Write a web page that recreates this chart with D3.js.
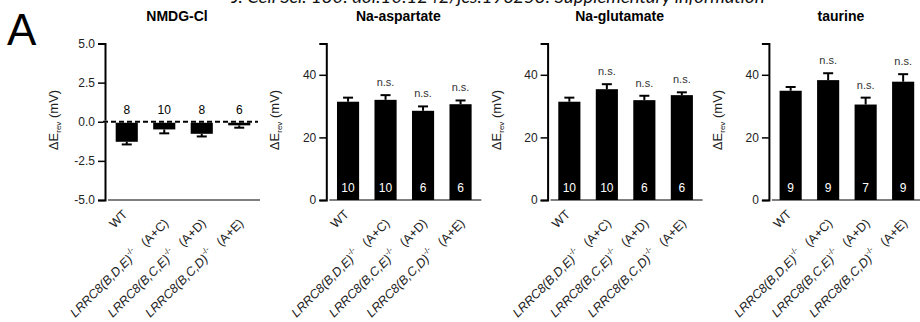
<!DOCTYPE html>
<html>
<head>
<meta charset="utf-8">
<script src="https://cdn.jsdelivr.net/npm/d3@7"></script>
<style>
  body { margin: 0; background: #fff; }
  svg { display: block; font-family: "Liberation Sans", Arial, sans-serif; }
</style>
</head>
<body>
<svg id="chart" width="920" height="322"></svg>
<script>
// data
var panels = ["NMDG-Cl", "Na-aspartate", "Na-glutamate", "taurine"];
var groups = ["WT", "LRRC8(B,D,E)", "LRRC8(B,C,E)", "LRRC8(B,C,D)"];
var rescue = ["", "(A+C)", "(A+D)", "(A+E)"];

var nmdgMean = [-1.28, -0.49, -0.77, -0.23];
var nmdgErr  = [0.17, 0.25, 0.17, 0.15];
var nmdgN    = [8, 10, 8, 6];

var aspMean = [31.4, 32.0, 28.5, 30.6];
var aspErr  = [1.3, 1.5, 1.4, 1.2];
var aspN    = [10, 10, 6, 6];

var gluMean = [31.4, 35.4, 31.9, 33.5];
var gluErr  = [1.3, 1.6, 1.4, 0.9];
var gluN    = [10, 10, 6, 6];

var taurMean = [34.9, 38.3, 30.5, 37.8];
var taurErr  = [1.2, 2.2, 2.2, 2.4];
var taurN    = [9, 9, 7, 9];

var sig = ["", "n.s.", "n.s.", "n.s."];

var nmdgTicks = [-5, -2.5, 0, 2.5, 5];
var ionTicks = [0, 20, 40];

var svg = d3.select("#chart");

// header (cut off at top in the original)
svg.append("text")
  .attr("x", 498).attr("y", 3)
  .attr("text-anchor", "middle")
  .attr("textLength", 533).attr("lengthAdjust", "spacingAndGlyphs")
  .style("font-family", "Lato, 'Open Sans', sans-serif")
  .style("font-style", "italic")
  .style("font-size", "18px")
  .style("fill", "#111")
  .text("J. Cell Sci. 130: doi:10.1242/jcs.196253: Supplementary information");

svg.append("text")
  .attr("x", 7).attr("y", 45)
  .style("font-size", "44px")
  .text("A");

var hyphen = function(f) { return function(v) { return f(v).replace("\u2212", "-"); }; };

var sets = [
  {mean: nmdgMean, err: nmdgErr, n: nmdgN, domain: [-5, 5], ticks: nmdgTicks, fmt: hyphen(d3.format(".1f"))},
  {mean: aspMean, err: aspErr, n: aspN, domain: [0, 50], ticks: ionTicks, fmt: d3.format("d")},
  {mean: gluMean, err: gluErr, n: gluN, domain: [0, 50], ticks: ionTicks, fmt: d3.format("d")},
  {mean: taurMean, err: taurErr, n: taurN, domain: [0, 50], ticks: ionTicks, fmt: d3.format("d")}
];

var panelX = d3.scaleLinear().domain([0, 1]).range([105, 326.3]);

sets.forEach(function(s, p) {
  var x0 = panelX(p);
  var g = svg.append("g").attr("transform", "translate(" + x0 + ",0)");

  var x = d3.scaleBand().domain(groups).range([3, 153])
    .paddingInner(0.41).paddingOuter(0.205);
  var y = d3.scaleLinear().domain(s.domain).range([200, 43.5]);
  var cx = function(d, i) { return x(groups[i]) + x.bandwidth() / 2; };

  // title
  g.append("text")
    .attr("x", 72).attr("y", 21)
    .attr("text-anchor", "middle")
    .style("font-weight", "bold")
    .style("font-size", "14px")
    .text(panels[p]);

  // y axis
  var ax = g.append("g")
    .call(d3.axisLeft(y).tickValues(s.ticks).tickFormat(s.fmt).tickSizeOuter(0).tickSize(7).tickPadding(3));
  ax.select(".domain").attr("stroke", "#000").attr("stroke-width", 2);
  ax.selectAll(".tick line").attr("stroke", "#000").attr("stroke-width", 1.5);
  ax.selectAll(".tick text").style("font-size", "12px").style("fill", "#222")
    .style("font-family", "'Liberation Sans', Arial, sans-serif");

  // y title
  var yt = g.append("text")
    .attr("transform", "translate(-47,120) rotate(-90)")
    .attr("text-anchor", "middle")
    .style("font-size", "13px")
    .style("fill", "#222");
  yt.append("tspan").text("\u0394E");
  yt.append("tspan").attr("dy", 3).style("font-size", "8px").text("rev");
  yt.append("tspan").attr("dy", -3).text(" (mV)");

  // x axis line
  g.append("line")
    .attr("x1", 3).attr("x2", 155)
    .attr("y1", 200).attr("y2", 200)
    .attr("stroke", "#555").attr("stroke-width", 1.5);

  // bars
  g.selectAll("rect.bar")
    .data(s.mean)
    .enter()
    .append("rect")
    .attr("class", "bar")
    .attr("x", function(d, i) { return x(groups[i]); })
    .attr("width", x.bandwidth())
    .attr("y", function(d) { return Math.min(y(d), y(0)); })
    .attr("height", function(d) { return Math.abs(y(d) - y(0)); })
    .attr("fill", "#000");

  // error bars (one-sided, away from zero)
  var tip = function(d, i) { return d < 0 ? d - s.err[i] : d + s.err[i]; };
  g.selectAll("line.err")
    .data(s.mean)
    .enter()
    .append("line")
    .attr("class", "err")
    .attr("x1", cx).attr("x2", cx)
    .attr("y1", function(d) { return y(d); })
    .attr("y2", function(d, i) { return y(tip(d, i)); })
    .attr("stroke", "#000").attr("stroke-width", 2);
  g.selectAll("line.cap")
    .data(s.mean)
    .enter()
    .append("line")
    .attr("class", "cap")
    .attr("x1", function(d, i) { return cx(d, i) - 5; })
    .attr("x2", function(d, i) { return cx(d, i) + 5; })
    .attr("y1", function(d, i) { return y(tip(d, i)); })
    .attr("y2", function(d, i) { return y(tip(d, i)); })
    .attr("stroke", "#000").attr("stroke-width", 2);

  if (s.domain[0] < 0) {
    // dashed zero line with n above
    g.append("line")
      .attr("x1", -2).attr("x2", 153).attr("y1", y(0)).attr("y2", y(0))
      .attr("stroke", "#fff").attr("stroke-width", 2);
    g.append("line")
      .attr("x1", -2).attr("x2", 153).attr("y1", y(0)).attr("y2", y(0))
      .attr("stroke", "#000").attr("stroke-width", 2)
      .attr("stroke-dasharray", "5,3");
    g.selectAll("text.n")
      .data(s.n)
      .enter()
      .append("text")
      .attr("class", "n")
      .attr("x", cx).attr("y", 114)
      .attr("text-anchor", "middle")
      .style("font-size", "12px")
      .text(function(d) { return d; });
  } else {
    g.selectAll("text.n")
      .data(s.n)
      .enter()
      .append("text")
      .attr("class", "n")
      .attr("x", cx).attr("y", 192)
      .attr("text-anchor", "middle")
      .style("font-size", "12px")
      .style("fill", "#fff")
      .text(function(d) { return d; });
    g.selectAll("text.sig")
      .data(s.mean)
      .enter()
      .append("text")
      .attr("class", "sig")
      .attr("x", cx)
      .attr("y", function(d, i) { return y(tip(d, i)) - 9; })
      .attr("text-anchor", "middle")
      .style("font-size", "11px")
      .style("fill", "#333")
      .text(function(d, i) { return sig[i]; });
  }

  // rotated category labels
  groups.forEach(function(name, i) {
    var c = x(name) + x.bandwidth() / 2;
    var lx = rescue[i] ? c + 5 : c + 1.5;
    var ly = rescue[i] ? 224 : 215;
    var t = g.append("text")
      .attr("transform", "translate(" + lx + "," + ly + ") rotate(-45)")
      .attr("text-anchor", "end")
      .style("font-size", "12.5px")
      .style("fill", "#222");
    if (rescue[i]) {
      t.append("tspan").style("font-style", "italic").text(name);
      t.append("tspan").attr("dy", -6).style("font-size", "8px").text("-/-");
      t.append("tspan").attr("dy", 6).text("\u00a0\u00a0 " + rescue[i]);
    } else {
      t.text(name);
    }
  });
});
</script>
</body>
</html>
